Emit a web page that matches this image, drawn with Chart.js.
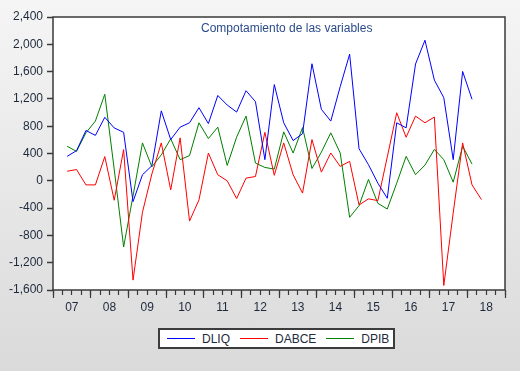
<!DOCTYPE html>
<html lang="es">
<head>
    <meta charset="UTF-8">
    <title>Compotamiento de las variables</title>
    <script src="https://cdn.jsdelivr.net/npm/chart.js"></script>
    <style>
        body {
            margin: 0;
            width: 520px;
            height: 371px;
            overflow: hidden;
            background: linear-gradient(#f5f5f5, #dadada);
            font-family: Arial, "Liberation Sans", sans-serif;
        }
        .wrap {
            position: relative;
            width: 520px;
            height: 371px;
        }
        canvas {
            position: absolute;
            left: 0;
            top: 0;
        }
        .legend {
            position: absolute;
            left: 158px;
            top: 328px;
            width: 233px;
            height: 17px;
            border: 2px solid #3c3c3c;
            background: #fff;
            display: flex;
            align-items: center;
            font-size: 12px;
            color: #1d2a3c;
        }
        .legend .line {
            display: inline-block;
            width: 28px;
            height: 0;
            border-top: 1px solid;
            margin: 0 7px 0 10px;
        }
        .legend .line:first-child {
            margin-left: 7px;
        }
    </style>
</head>
<body>
<div class="wrap">
    <canvas id="grafico" width="520" height="371"></canvas>
    <div class="legend" id="legend"></div>
</div>

<script>
    // periodos trimestrales (la serie DABCE tiene un trimestre mas)
    const periods = [
        '2007Q2', '2007Q3', '2007Q4',
        '2008Q1', '2008Q2', '2008Q3', '2008Q4',
        '2009Q1', '2009Q2', '2009Q3', '2009Q4',
        '2010Q1', '2010Q2', '2010Q3', '2010Q4',
        '2011Q1', '2011Q2', '2011Q3', '2011Q4',
        '2012Q1', '2012Q2', '2012Q3', '2012Q4',
        '2013Q1', '2013Q2', '2013Q3', '2013Q4',
        '2014Q1', '2014Q2', '2014Q3', '2014Q4',
        '2015Q1', '2015Q2', '2015Q3', '2015Q4',
        '2016Q1', '2016Q2', '2016Q3', '2016Q4',
        '2017Q1', '2017Q2', '2017Q3', '2017Q4',
        '2018Q1', '2018Q2'
    ];
    const yearLabels = ['07', '08', '09', '10', '11', '12', '13', '14', '15', '16', '17', '18'];
    const seriesNames = ['DLIQ', 'DABCE', 'DPIB'];

    const dliq = [
        358, 442, 737, 665, 930, 775, 710, -305, 88, 221, 1025,
        604, 786, 850, 1071, 838, 1250, 1110, 1007, 1320, 1160, 310,
        1410, 850, 590, 690, 1715, 1047, 875, 1380, 1855, 470, 236,
        -35, -256, 850, 776, 1711, 2060, 1475, 1218, 310, 1602, 1194
    ];
    const dabce = [
        140, 165, -60, -60, 355, -285, 457, -1455, -460, 100, 555,
        -133, 629, -590, -280, 407, 88, 0, -260, 39, 63, 710,
        80, 555, 88, -180, 604, 127, 407, 211, 285, -354, -265,
        -290, 350, 997, 638, 948, 850, 934, -1534, -470, 555, -60, -275
    ];
    const dpib = [
        506, 431, 703, 875, 1268, 170, -969, -220, 555, 205, 380,
        615, 310, 370, 850, 619, 786, 225, 640, 948, 260, 196,
        171, 717, 407, 780, 180, 420, 703, 407, -535, -364, 20,
        -330, -413, -35, 358, 90, 230, 460, 310, -20, 506, 245
    ];

    const colores = ['#0000ff', '#ff0000', '#008000'];
    const colorTexto = '#1d2a3c';

    // indice del trimestre desde 2007Q1
    function trimestre(p) {
        return (Number(p.slice(0, 4)) - 2007) * 4 + Number(p.slice(5)) - 1;
    }

    function puntos(valores) {
        return valores.map((v, i) => ({ x: trimestre(periods[i]) + 0.5, y: v }));
    }

    const marcoGrafico = {
        id: 'marcoGrafico',
        beforeDraw(chart) {
            const a = chart.chartArea;
            const ctx = chart.ctx;
            ctx.save();
            ctx.fillStyle = '#ffffff';
            ctx.fillRect(a.left, a.top, a.right - a.left, a.bottom - a.top);
            ctx.restore();
        },
        afterDatasetsDraw(chart) {
            const a = chart.chartArea;
            const ctx = chart.ctx;
            ctx.save();
            ctx.strokeStyle = '#3a3a3a';
            ctx.lineWidth = 1.5;
            ctx.strokeRect(a.left, a.top, a.right - a.left, a.bottom - a.top);
            ctx.fillStyle = '#2b4b8b';
            ctx.font = '12px Arial, "Liberation Sans", sans-serif';
            ctx.textBaseline = 'middle';
            ctx.textAlign = 'left';
            ctx.fillText('Compotamiento de las variables', a.left + 148, a.top + 12);
            ctx.restore();
        }
    };

    const fuente = { family: 'Arial, "Liberation Sans", sans-serif', size: 12 };

    new Chart(document.getElementById('grafico'), {
        type: 'line',
        data: {
            datasets: [
                { label: seriesNames[0], data: puntos(dliq), borderColor: colores[0] },
                { label: seriesNames[1], data: puntos(dabce), borderColor: colores[1] },
                { label: seriesNames[2], data: puntos(dpib), borderColor: colores[2] }
            ]
        },
        options: {
            responsive: false,
            animation: false,
            locale: 'en-US',
            layout: { padding: { left: 0, top: 17, right: 15, bottom: 0 } },
            elements: {
                line: { borderWidth: 1, tension: 0 },
                point: { radius: 0 }
            },
            plugins: {
                legend: { display: false },
                tooltip: { enabled: false }
            },
            scales: {
                y: {
                    min: -1600,
                    max: 2400,
                    ticks: { stepSize: 400, color: colorTexto, font: fuente, padding: 4 },
                    grid: { drawOnChartArea: false, tickLength: 6, color: '#3a3a3a', tickWidth: 1.5 },
                    border: { display: false },
                    afterFit: s => { s.width = 53; }
                },
                x: {
                    type: 'linear',
                    position: 'bottom',
                    min: 0,
                    max: 48,
                    ticks: { display: false, stepSize: 1 },
                    grid: { drawOnChartArea: false, tickLength: 5, color: '#3a3a3a', tickWidth: 1.2 },
                    border: { display: false },
                    afterFit: s => { s.height = 0; }
                },
                xYear: {
                    type: 'linear',
                    position: 'bottom',
                    min: 0,
                    max: 48,
                    ticks: {
                        stepSize: 4,
                        autoSkip: false,
                        maxRotation: 0,
                        labelOffset: 18.8,
                        padding: 2,
                        color: colorTexto,
                        font: fuente,
                        callback: v => yearLabels[v / 4] ?? ''
                    },
                    grid: { drawOnChartArea: false, tickLength: 8, color: '#3a3a3a', tickWidth: 1.2 },
                    border: { display: false },
                    afterFit: s => { s.height = 81; }
                }
            }
        },
        plugins: [marcoGrafico]
    });

    // leyenda con recuadro, como en el grafico original
    const legend = document.getElementById('legend');
    seriesNames.forEach((nombre, i) => {
        const linea = document.createElement('span');
        linea.className = 'line';
        linea.style.borderTopColor = colores[i];
        const texto = document.createElement('span');
        texto.textContent = nombre;
        legend.appendChild(linea);
        legend.appendChild(texto);
    });
</script>
</body>
</html>
